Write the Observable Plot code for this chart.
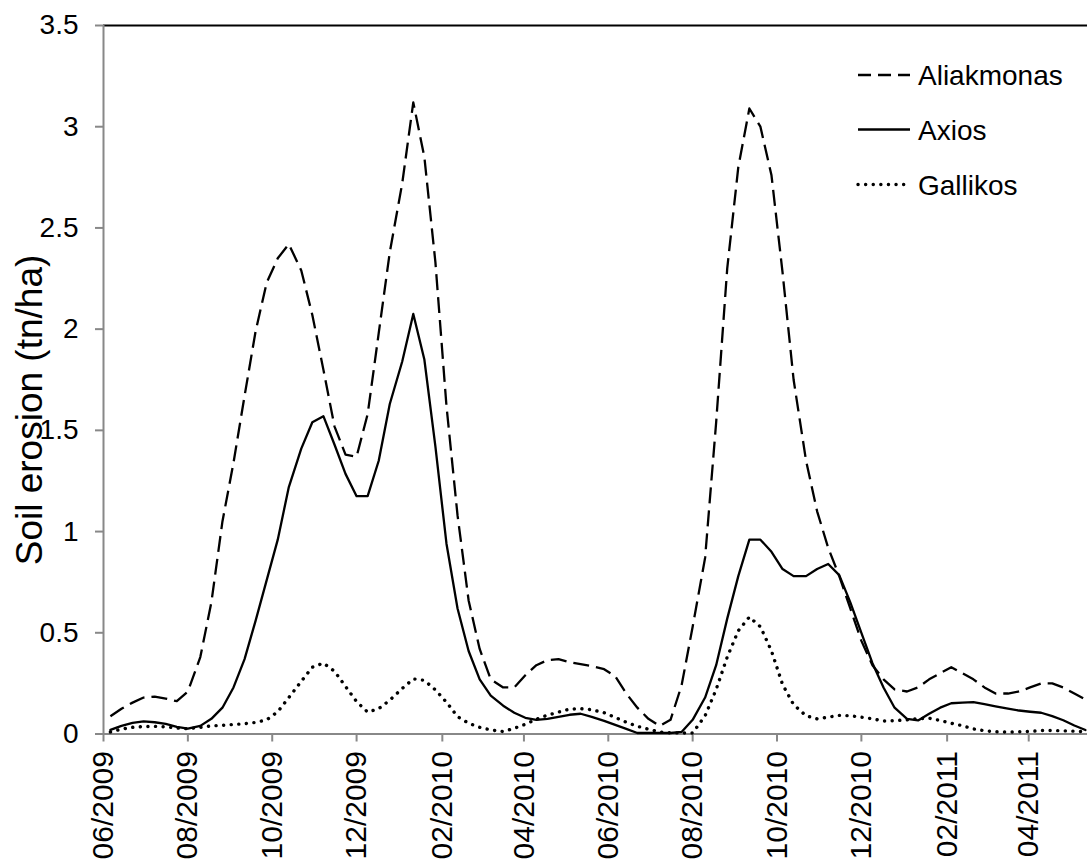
<!DOCTYPE html>
<html><head><meta charset="utf-8">
<script src="https://cdn.jsdelivr.net/npm/d3@7"></script>
<script src="https://cdn.jsdelivr.net/npm/@observablehq/plot@0.6"></script>
<style>
body{margin:0;background:#fff;}
#wrap{position:relative;width:1087px;height:859px;overflow:hidden;font-family:"Liberation Sans",Arial,sans-serif;background:#fff;}
#legend{position:absolute;left:0;top:0;}
</style></head><body><div id="wrap"></div>
<script>
const dates = ["2009-06-06","2009-06-14","2009-06-22","2009-06-30","2009-07-08","2009-07-16","2009-07-24","2009-08-01","2009-08-10","2009-08-18","2009-08-26","2009-09-03","2009-09-11","2009-09-19","2009-09-27","2009-10-05","2009-10-13","2009-10-22","2009-10-30","2009-11-07","2009-11-15","2009-11-23","2009-12-01","2009-12-09","2009-12-17","2009-12-25","2010-01-03","2010-01-11","2010-01-19","2010-01-27","2010-02-04","2010-02-12","2010-02-20","2010-02-28","2010-03-08","2010-03-17","2010-03-25","2010-04-02","2010-04-10","2010-04-18","2010-04-26","2010-05-04","2010-05-12","2010-05-20","2010-05-29","2010-06-06","2010-06-14","2010-06-22","2010-06-30","2010-07-08","2010-07-16","2010-07-24","2010-08-01","2010-08-10","2010-08-18","2010-08-26","2010-09-03","2010-09-11","2010-09-19","2010-09-27","2010-10-05","2010-10-13","2010-10-22","2010-10-30","2010-11-07","2010-11-15","2010-11-23","2010-12-01","2010-12-09","2010-12-17","2010-12-25","2011-01-03","2011-01-11","2011-01-19","2011-01-27","2011-02-04","2011-02-12","2011-02-20","2011-02-28","2011-03-08","2011-03-17","2011-03-25","2011-04-02","2011-04-10","2011-04-18","2011-04-26","2011-05-04","2011-05-12"];

const aliakmonas = [0.088,0.125,0.155,0.18,0.185,0.175,0.162,0.21,0.38,0.65,
1.05,1.34,1.67,1.99,2.23,2.35,2.42,2.29,2.07,1.80,
1.52,1.38,1.37,1.58,1.98,2.38,2.72,3.12,2.85,2.33,
1.62,1.08,0.66,0.42,0.27,0.23,0.23,0.29,0.34,0.365,
0.37,0.355,0.345,0.335,0.32,0.285,0.20,0.13,0.075,0.04,
0.07,0.24,0.53,0.87,1.54,2.30,2.80,3.09,3.0,2.76,
2.28,1.75,1.35,1.10,0.92,0.78,0.62,0.46,0.34,0.27,
0.22,0.21,0.23,0.27,0.30,0.33,0.30,0.27,0.23,0.20,
0.20,0.21,0.23,0.25,0.25,0.23,0.20,0.17];

const axios = [0.02,0.04,0.055,0.062,0.058,0.05,0.035,0.026,0.04,0.075,
0.13,0.23,0.37,0.56,0.76,0.96,1.22,1.41,1.54,1.57,
1.43,1.285,1.175,1.175,1.35,1.63,1.84,2.075,1.85,1.42,
0.94,0.62,0.41,0.27,0.19,0.14,0.105,0.08,0.07,0.075,
0.085,0.095,0.10,0.085,0.065,0.045,0.025,0.005,0.005,0.005,
0.005,0.01,0.07,0.18,0.34,0.57,0.78,0.96,0.96,0.90,
0.815,0.78,0.78,0.815,0.84,0.785,0.65,0.50,0.35,0.23,
0.13,0.075,0.067,0.10,0.13,0.152,0.155,0.157,0.147,0.136,
0.125,0.116,0.11,0.105,0.088,0.068,0.042,0.02];

const gallikos = [0.01,0.024,0.033,0.037,0.038,0.035,0.03,0.026,0.033,0.04,
0.043,0.047,0.051,0.057,0.07,0.11,0.18,0.26,0.33,0.35,
0.31,0.235,0.16,0.108,0.125,0.167,0.225,0.272,0.265,0.218,
0.157,0.086,0.053,0.033,0.02,0.012,0.028,0.048,0.073,0.093,
0.108,0.123,0.125,0.12,0.105,0.082,0.058,0.038,0.024,0.01,
0.006,0.005,0.005,0.09,0.22,0.38,0.51,0.578,0.53,0.41,
0.245,0.145,0.09,0.075,0.083,0.092,0.09,0.083,0.075,0.064,
0.066,0.07,0.076,0.078,0.067,0.053,0.041,0.025,0.016,0.011,
0.009,0.011,0.013,0.017,0.017,0.016,0.014,0.011];

const seriesNames = ["Aliakmonas","Axios","Gallikos"];
const xTickLabels = ["06/2009","08/2009","10/2009","12/2009","02/2010","04/2010","06/2010","08/2010","10/2010","12/2010","02/2011","04/2011"];
const yTicks = [0,0.5,1,1.5,2,2.5,3,3.5];
const xDomain = ["2009-06-01","2011-05-13T12:00:00Z"];
const yTitle = "Soil erosion (tn/ha)";

const parseTick = s => { const [m,y] = s.split("/"); return new Date(Date.UTC(+y, +m - 1, 1)); };
const xTicks = xTickLabels.map(parseTick);
const rows = (vals) => vals.map((v,i) => ({date: new Date(dates[i]), value: v}));

const styles = {
  Aliakmonas: {strokeDasharray: "16,7", strokeWidth: 2.3, strokeLinecap: "butt"},
  Axios: {strokeDasharray: null, strokeWidth: 2.3},
  Gallikos: {strokeDasharray: "0.1,7.5", strokeWidth: 3.4, strokeLinecap: "round"}
};
const seriesData = {Aliakmonas: aliakmonas, Axios: axios, Gallikos: gallikos};
const FONT = "'Liberation Sans', Arial, sans-serif";

const chart = Plot.plot({
  width: 1087, height: 859,
  marginLeft: 103, marginRight: 0, marginTop: 25, marginBottom: 125.5,
  style: {fontFamily: FONT, fontSize: "28px", color: "#000", background: "#fff", overflow: "visible"},
  x: {type: "utc", domain: xDomain.map(d => new Date(d))},
  y: {domain: [0, 3.5]},
  marks: [
    Plot.ruleY([yTicks[yTicks.length-1]], {stroke: "#000", strokeWidth: 2}),
    Plot.axisY({ticks: yTicks, tickSize: 8, tickPadding: 17, stroke: "#888", strokeWidth: 2, tickFormat: d => String(d), fontSize: 28, label: null}),
    Plot.axisX({ticks: xTicks, tickFormat: d3.utcFormat("%m/%Y"), tickRotate: -90, tickSize: 8, tickPadding: 9, stroke: "#888", strokeWidth: 2, fontSize: 30, label: null}),
    Plot.ruleX([xDomain[0]].map(d => new Date(d)), {stroke: "#888", strokeWidth: 2}),
    Plot.ruleY([yTicks[0]], {stroke: "#888", strokeWidth: 2}),
    ...seriesNames.map(name => Plot.line(rows(seriesData[name]), {x: "date", y: "value", stroke: "#000", ...styles[name]}))
  ]
});
const wrap = document.getElementById("wrap");
wrap.appendChild(chart);

// legend and y title overlay
const ns = "http://www.w3.org/2000/svg";
const lg = document.createElementNS(ns, "svg");
lg.setAttribute("id", "legend");
lg.setAttribute("width", 1087); lg.setAttribute("height", 859);
const title = document.createElementNS(ns, "text");
title.setAttribute("transform", "translate(42,410) rotate(-90)");
title.setAttribute("text-anchor", "middle");
title.setAttribute("font-size", 37);
title.setAttribute("font-family", FONT);
title.textContent = yTitle;
lg.appendChild(title);
const legendY = [75, 129.5, 184.5];
seriesNames.forEach((name, k) => {
  const st = styles[name];
  const l = document.createElementNS(ns, "line");
  l.setAttribute("x1", 858); l.setAttribute("x2", 910);
  l.setAttribute("y1", legendY[k]); l.setAttribute("y2", legendY[k]);
  l.setAttribute("stroke", "#000");
  l.setAttribute("stroke-width", st.strokeWidth);
  if (st.strokeDasharray) l.setAttribute("stroke-dasharray", name === "Aliakmonas" ? "13,7" : st.strokeDasharray);
  if (st.strokeLinecap) l.setAttribute("stroke-linecap", st.strokeLinecap);
  lg.appendChild(l);
  const t = document.createElementNS(ns, "text");
  t.setAttribute("x", 918); t.setAttribute("y", legendY[k] + 10);
  t.setAttribute("font-size", 28);
  t.setAttribute("font-family", FONT);
  t.textContent = name;
  lg.appendChild(t);
});
wrap.appendChild(lg);
</script></body></html>
